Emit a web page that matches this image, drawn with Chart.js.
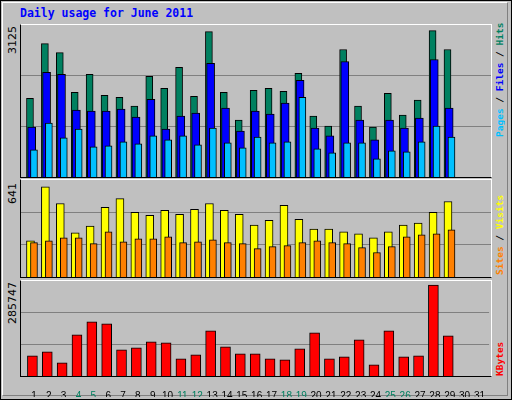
<!DOCTYPE html>
<html><head><meta charset="utf-8">
<script src="https://cdn.jsdelivr.net/npm/chart.js@4/dist/chart.umd.min.js"></script>
<style>
body{margin:0;background:#fff;}
#frame{position:absolute;left:0;top:0;width:510px;height:398px;border:1px solid #000;background:#c0c0c0;}
#inner{position:absolute;left:2px;top:2px;width:504px;height:392px;border-top:1px solid #fff;border-left:1px solid #fff;border-right:1px solid #808080;border-bottom:1px solid #808080;}
.box{position:absolute;left:20px;width:470px;}
canvas{display:block;}
.ylab{position:absolute;writing-mode:vertical-rl;transform:rotate(180deg);font:11px "DejaVu Sans",sans-serif;color:#000;}
.leg{position:absolute;writing-mode:vertical-rl;transform:rotate(180deg);font:bold 9.5px "DejaVu Sans Mono",monospace;left:494px;white-space:nowrap;}
#title{position:absolute;left:20px;top:6px;font:bold 11.5px "DejaVu Sans Mono",monospace;color:#0000ff;}
.sunk{border-top:1px solid #fff;border-right:1px solid #fff;border-left:1px solid #000;border-bottom:1px solid #000;}
</style></head><body>
<div id="frame"></div><div id="inner"></div>
<div id="title">Daily usage for June 2011</div>
<div class="box sunk" style="top:24px;height:152px"><canvas id="c1" width="470" height="152"></canvas></div>
<div class="box sunk" style="top:179px;height:97px"><canvas id="c2" width="470" height="97"></canvas></div>
<div class="box" style="top:280px;height:118px"><div class="sunk" style="position:absolute;left:0;top:0;width:470px;height:95px"></div><canvas id="c3" width="470" height="116" style="position:absolute;left:1px;top:1px"></canvas></div>
<div class="ylab" style="left:6px;top:26px">3125</div>
<div class="ylab" style="left:6px;top:183px">641</div>
<div class="ylab" style="left:6px;top:282px">285747</div>
<div class="leg" style="top:27px;height:110px"><span style="color:#00c0ff">Pages</span> / <span style="color:#0000ff">Files</span> / <span style="color:#008060">Hits</span></div>
<div class="leg" style="top:195px;height:80px"><span style="color:#ff8000">Sites</span> / <span style="color:#ffff00">Visits</span></div>
<div class="leg" style="top:340px;height:36px"><span style="color:#ff0000">KBytes</span></div>
<script>
const days = Array.from({length: 31}, (_, i) => i + 1);
const weekendDays = [4, 5, 11, 12, 18, 19, 25, 26];
const hits = [1682,2848,2657,1809,2191,1746,1703,1513,2149,1894,2340,1725,3103,1809,1216,1852,1894,1831,2212,1301,1089,2722,1513,1068,1788,1322,1640,3125,2722];
const files = [1068,2234,2191,1428,1407,1407,1449,1280,1661,1025,1301,1364,2425,1470,983,1407,1343,1576,2064,1047,877,2467,1216,792,1216,1047,1258,2510,1470];
const pages = [580,1152,834,1025,643,664,749,707,877,792,877,686,1047,728,622,855,728,749,1704,601,516,728,728,389,559,537,749,1089,855];
const visits = [258,641,523,314,362,495,558,460,439,474,446,481,523,474,446,369,404,509,411,341,341,321,307,279,321,369,383,460,537];
const sites = [244,258,279,279,237,321,251,272,272,286,244,251,265,244,237,202,216,223,244,258,244,237,209,174,216,286,300,307,335];
const kbytes = [63600,76100,41700,129300,170000,163700,82400,88700,107400,104300,54200,66800,141800,91800,69900,69900,54200,51100,85500,135600,54200,60500,113700,35500,141800,60500,63600,285747,126200];

const pts = (arr, shift) => arr.map((v, i) => ({x: days[i] + shift, y: v}));
// lower order is drawn on top
const ds = (label, arr, shift, color, w, order) => ({
  label, data: pts(arr, shift), backgroundColor: color, borderColor: "#000",
  borderWidth: 1, barThickness: w, grouped: false, order
});

const makeChart = (id, datasets, ymax, showDays) => new Chart(document.getElementById(id), {
  type: "bar",
  data: {datasets},
  options: {
    responsive: false, animation: false,
    layout: {padding: 0},
    plugins: {legend: {display: false}, tooltip: {enabled: false}},
    scales: {
      x: {
        type: "linear", min: 0.13, max: 31.65, offset: false,
        grid: {display: false}, border: {display: false},
        afterBuildTicks: (s) => { s.ticks = days.map((d) => ({value: d})); },
        afterFit: (s) => { s.height = showDays ? 21 : 0; },
        ticks: {
          display: showDays, padding: 6, autoSkip: false, maxRotation: 0,
          font: {family: "Liberation Sans", size: 10},
          color: (c) => weekendDays.includes(c.tick.value) ? "#008060" : "#000"
        }
      },
      y: {
        min: 0, max: ymax,
        afterBuildTicks: (s) => { s.ticks = [{value: ymax / 3}, {value: ymax * 2 / 3}]; },
        afterFit: (s) => { s.width = 0; },
        ticks: {display: false},
        grid: {color: "#808080", lineWidth: 1, drawTicks: false},
        border: {display: false}
      }
    }
  }
});

const u = 1 / 14.92;
makeChart("c1", [
  ds("Hits", hits, -4 * u, "#008060", 7, 3),
  ds("Files", files, -2.3 * u, "#0000ff", 8, 2),
  ds("Pages", pages, 0, "#00c0ff", 7, 1)
], 3246, false);
makeChart("c2", [
  ds("Visits", visits, -3.5 * u, "#ffff00", 8, 2),
  ds("Sites", sites, 0, "#ff8000", 7, 1)
], 690, false);
makeChart("c3", [
  ds("KBytes", kbytes, -1.5 * u, "#ff0000", 10, 1)
], 298600, true);
</script>
</body></html>
